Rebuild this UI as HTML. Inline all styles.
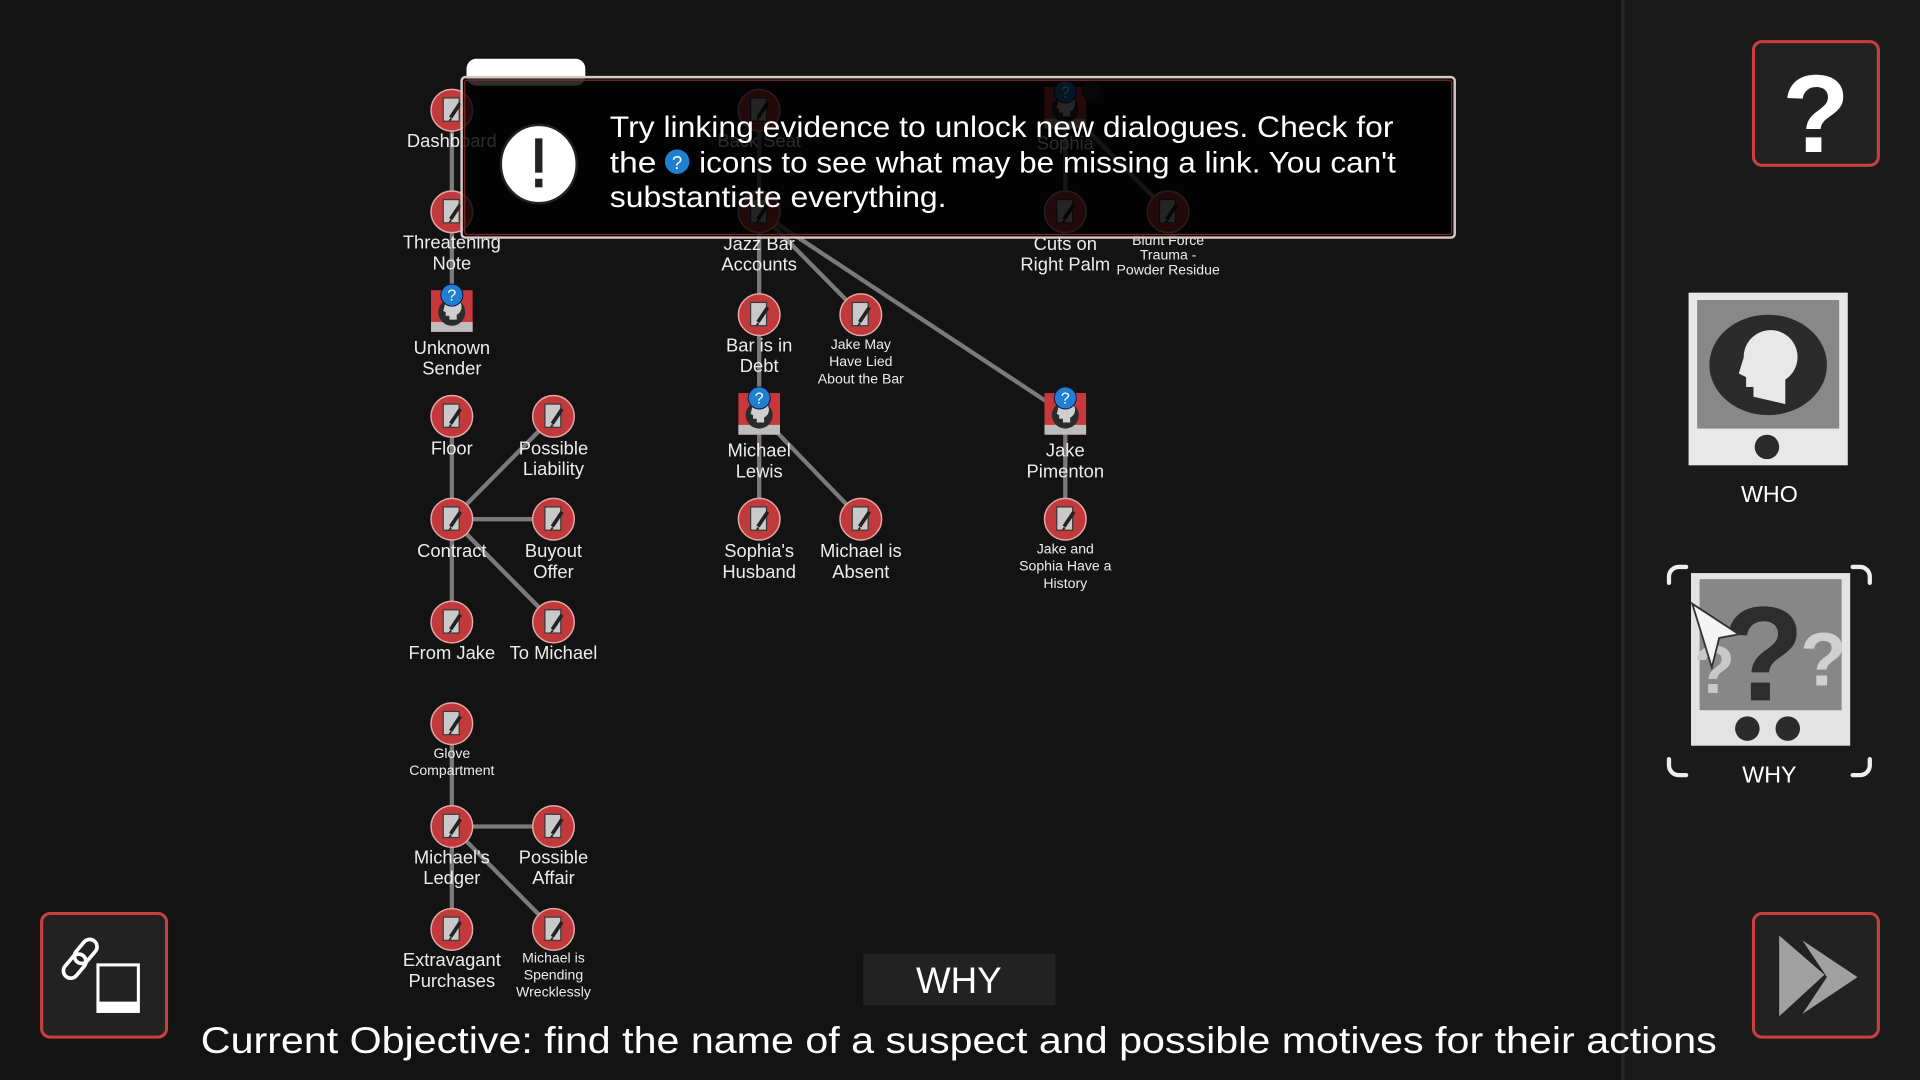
<!DOCTYPE html>
<html><head><meta charset="utf-8"><style>
html,body{margin:0;padding:0;background:#131313;overflow:hidden}
svg{display:block}
text{font-family:"Liberation Sans",sans-serif}
</style></head><body>
<svg width="1920" height="1080" viewBox="0 0 1568 882" preserveAspectRatio="none" xmlns="http://www.w3.org/2000/svg">
<defs>
<g id="ev">
<circle r="17" fill="#c2393b" stroke="#e2a8a8" stroke-width="1.2"/>
<rect x="-7" y="-10" width="13" height="19" fill="#c9c9c9" stroke="#3a3a3a" stroke-width="1"/>
<line x1="7" y1="-6" x2="-1" y2="6" stroke="#222" stroke-width="3"/>
<polygon points="-1,6 -3,9 0,8" fill="#222"/>
</g>
<g id="per">
<rect x="-17" y="-17" width="34" height="34" fill="#c8383a"/>
<rect x="-17" y="9" width="34" height="8" fill="#bdbdbd"/>
<circle r="11" cy="1" fill="#2b2b2b"/>
<path d="M-6,-4 a7,7 0 1 1 10,7 l0,4 l-6,0 l0,-3 l-3,0 l0,-3 l-2,-1 z" fill="#cfcfcf"/>
<circle cy="-13" r="9" fill="#1f7fd0" stroke="#114" stroke-width="0.8"/>
<text y="-8.5" text-anchor="middle" font-size="13" fill="#fff">?</text>
</g>
</defs>
<rect width="1568" height="882" fill="#131313"/>
<rect x="1326" y="0" width="242" height="882" fill="#1a1a1a"/>
<rect x="1324" y="0" width="3" height="882" fill="#262626"/>

<g stroke="#7a7a7a" stroke-width="3.5" fill="none">
<line x1="369" y1="90" x2="369" y2="254"/>
<line x1="369" y1="340" x2="369" y2="508"/>
<line x1="369" y1="424" x2="452" y2="340"/>
<line x1="369" y1="424" x2="452" y2="424"/>
<line x1="369" y1="424" x2="452" y2="508"/>
<line x1="369" y1="591" x2="369" y2="759"/>
<line x1="369" y1="675" x2="452" y2="675"/>
<line x1="369" y1="675" x2="452" y2="759"/>
<line x1="620" y1="90" x2="620" y2="424"/>
<line x1="620" y1="173" x2="703" y2="257"/>
<line x1="620" y1="173" x2="870" y2="338"/>
<line x1="620" y1="338" x2="703" y2="424"/>
<line x1="870" y1="88" x2="870" y2="173"/>
<line x1="870" y1="88" x2="954" y2="173"/>
<line x1="870" y1="338" x2="870" y2="424"/>
</g>

<g>
<use href="#ev" x="369" y="90"/><use href="#ev" x="369" y="173"/><use href="#per" x="369" y="254"/>
<use href="#ev" x="369" y="340"/><use href="#ev" x="369" y="424"/><use href="#ev" x="369" y="508"/>
<use href="#ev" x="369" y="591"/><use href="#ev" x="369" y="675"/><use href="#ev" x="369" y="759"/>
<use href="#ev" x="452" y="340"/><use href="#ev" x="452" y="424"/><use href="#ev" x="452" y="508"/>
<use href="#ev" x="452" y="675"/><use href="#ev" x="452" y="759"/>
<use href="#ev" x="620" y="90"/><use href="#ev" x="620" y="173"/><use href="#ev" x="620" y="257"/>
<use href="#per" x="620" y="338"/><use href="#ev" x="620" y="424"/>
<use href="#ev" x="703" y="257"/><use href="#ev" x="703" y="424"/>
<use href="#per" x="870" y="88"/><use href="#ev" x="870" y="173"/><use href="#per" x="870" y="338"/><use href="#ev" x="870" y="424"/>
<use href="#ev" x="954" y="173"/>
<circle cx="891" cy="74" r="8" fill="#2a2a2a"/>
</g>

<g fill="#ececec" font-size="15" text-anchor="middle">
<text x="369" y="120">Dashboard</text>
<text x="369" y="203">Threatening</text><text x="369" y="220">Note</text>
<text x="369" y="289">Unknown</text><text x="369" y="306">Sender</text>
<text x="369" y="371">Floor</text>
<text x="369" y="455">Contract</text>
<text x="369" y="538">From Jake</text>
<text x="369" y="705">Michael's</text><text x="369" y="722">Ledger</text>
<text x="369" y="789">Extravagant</text><text x="369" y="806">Purchases</text>
<text x="452" y="371">Possible</text><text x="452" y="388">Liability</text>
<text x="452" y="455">Buyout</text><text x="452" y="472">Offer</text>
<text x="452" y="538">To Michael</text>
<text x="452" y="705">Possible</text><text x="452" y="722">Affair</text>
<text x="620" y="120">Back Seat</text>
<text x="620" y="204">Jazz Bar</text><text x="620" y="221">Accounts</text>
<text x="620" y="287">Bar is in</text><text x="620" y="304">Debt</text>
<text x="620" y="373">Michael</text><text x="620" y="390">Lewis</text>
<text x="620" y="455">Sophia's</text><text x="620" y="472">Husband</text>
<text x="703" y="455">Michael is</text><text x="703" y="472">Absent</text>
<text x="870" y="122">Sophia</text>
<text x="870" y="204">Cuts on</text><text x="870" y="221">Right Palm</text>
<text x="870" y="373">Jake</text><text x="870" y="390">Pimenton</text>
</g>
<g fill="#ececec" font-size="11.5" text-anchor="middle">
<text x="369" y="619">Glove</text><text x="369" y="633">Compartment</text>
<text x="452" y="786">Michael is</text><text x="452" y="800">Spending</text><text x="452" y="814">Wrecklessly</text>
<text x="703" y="285">Jake May</text><text x="703" y="299">Have Lied</text><text x="703" y="313">About the Bar</text>
<text x="870" y="452">Jake and</text><text x="870" y="466">Sophia Have a</text><text x="870" y="480">History</text>
<text x="954" y="200">Blunt Force</text><text x="954" y="212">Trauma -</text><text x="954" y="224">Powder Residue</text>
</g>

<rect x="381" y="48" width="97" height="22" rx="8" fill="#fff"/>
<rect x="377" y="63" width="811" height="131" rx="3" fill="rgba(0,0,0,0.82)" stroke="#d9c8c8" stroke-width="2"/>
<rect x="379.5" y="65.5" width="806" height="126" rx="2" fill="none" stroke="#7a2a2a" stroke-width="1"/>
<ellipse cx="440" cy="134" rx="31" ry="32" fill="#fff" stroke="#222" stroke-width="2"/>
<rect x="437" y="113" width="6" height="28" fill="#222"/>
<rect x="437" y="146" width="6" height="7" fill="#222"/>
<g fill="#fff" font-size="24">
<text x="498" y="112" textLength="640" lengthAdjust="spacingAndGlyphs">Try linking evidence to unlock new dialogues. Check for</text>
<text x="498" y="141" textLength="38" lengthAdjust="spacingAndGlyphs">the</text>
<text x="571" y="141" textLength="569" lengthAdjust="spacingAndGlyphs">icons to see what may be missing a link. You can't</text>
<text x="498" y="169" textLength="275" lengthAdjust="spacingAndGlyphs">substantiate everything.</text>
</g>
<circle cx="553" cy="132" r="10" fill="#1f7fd0"/>
<text x="553" y="138" text-anchor="middle" font-size="15" fill="#fff">?</text>

<rect x="1432" y="34" width="102" height="101" rx="7" fill="#222" stroke="#c84040" stroke-width="2.5"/>
<text x="1483" y="124" text-anchor="middle" font-size="90" font-weight="bold" fill="#fff">?</text>

<rect x="1379" y="239" width="130" height="141" fill="#e8e8e8"/>
<rect x="1386" y="245" width="116" height="105" fill="#888"/>
<ellipse cx="1444" cy="298" rx="48" ry="41" fill="#2b2b2b"/>
<path d="M1424,292 a22,22 0 1 1 34,18 l0,20 l-26,-6 l0,-8 l-6,0 l0,-8 l-6,-3 z" fill="#e8e8e8"/>
<circle cx="1443" cy="365" r="10" fill="#2b2b2b"/>
<text x="1445" y="410" text-anchor="middle" font-size="19" fill="#fff">WHO</text>

<g stroke="#eee" stroke-width="3.5" fill="none" stroke-linecap="round">
<path d="M1363,476 v-5 a8,8 0 0 1 8,-8 h6"/>
<path d="M1513,463 h6 a8,8 0 0 1 8,8 v5"/>
<path d="M1363,620 v5 a8,8 0 0 0 8,8 h6"/>
<path d="M1513,633 h6 a8,8 0 0 0 8,-8 v-5"/>
</g>
<rect x="1381" y="468" width="130" height="141" fill="#e3e3e3"/>
<rect x="1388" y="473" width="116" height="107" fill="#878787"/>
<text x="1440" y="572" text-anchor="middle" font-size="110" font-weight="bold" fill="#2d2d2d" font-family="Liberation Serif,serif">?</text>
<text x="1489" y="560" text-anchor="middle" font-size="62" font-weight="bold" fill="#d0d0d0" font-family="Liberation Serif,serif">?</text>
<text x="1400" y="566" text-anchor="middle" font-size="55" font-weight="bold" fill="#c8c8c8" font-family="Liberation Serif,serif">?</text>
<circle cx="1427" cy="595" r="10" fill="#2b2b2b"/><circle cx="1460" cy="595" r="10" fill="#2b2b2b"/>
<polygon points="1382,493 1420,518 1404,521 1398,545" fill="#f4f4f4" stroke="#333" stroke-width="1.5"/>
<text x="1445" y="639" text-anchor="middle" font-size="19" fill="#fff">WHY</text>

<rect x="1432" y="746" width="102" height="101" rx="7" fill="#222" stroke="#c84040" stroke-width="2.5"/>
<polygon points="1453,764 1490,796 1453,830" fill="#a0a0a0"/>
<polygon points="1472,768 1517,798 1472,828 1492,798" fill="#a0a0a0"/>

<rect x="34" y="746" width="102" height="101" rx="7" fill="#222" stroke="#c84040" stroke-width="2.5"/>
<rect x="80" y="788" width="33" height="38" fill="#222" stroke="#fff" stroke-width="2.5"/>
<rect x="80" y="818" width="33" height="8" fill="#fff"/>
<g stroke="#fff" stroke-width="3" fill="none">
<rect x="64" y="766" width="12" height="22" rx="6" transform="rotate(40 70 777)"/>
<rect x="55" y="778" width="12" height="22" rx="6" transform="rotate(40 61 789)"/>
</g>

<rect x="705" y="779" width="157" height="42" fill="#222"/>
<text x="783" y="811" text-anchor="middle" font-size="30" fill="#fff">WHY</text>

<text x="783" y="860" text-anchor="middle" font-size="30" fill="#fff" textLength="1238" lengthAdjust="spacingAndGlyphs">Current Objective: find the name of a suspect and possible motives for their actions</text>
</svg>
</body></html>
